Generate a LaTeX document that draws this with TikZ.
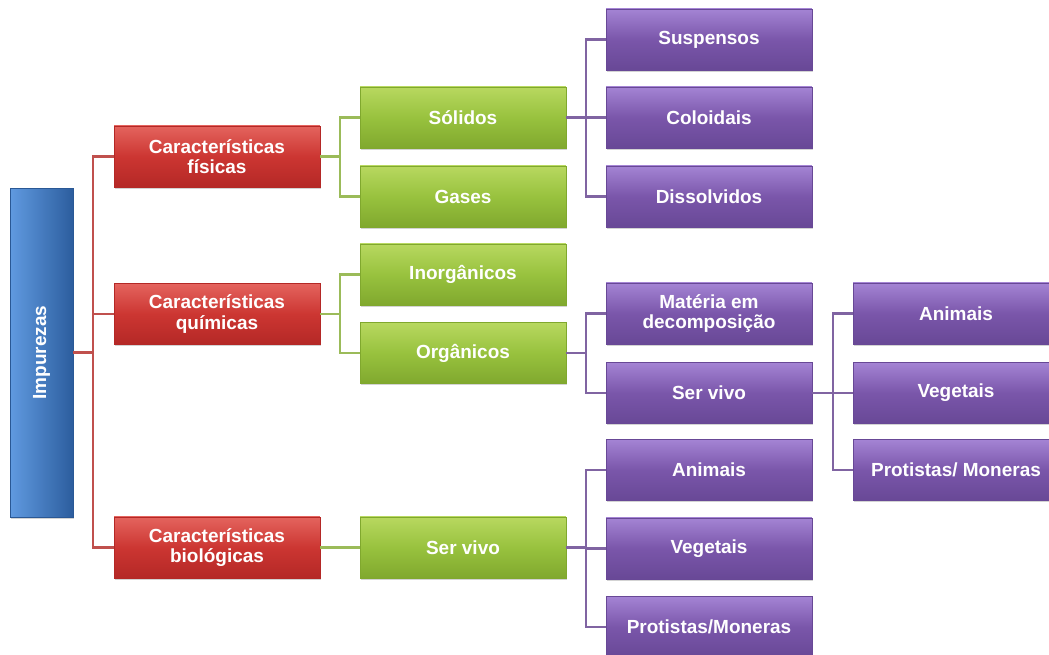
\documentclass[tikz,border=0pt]{standalone}
\usepackage{fontspec}
\usepackage{graphicx}
\setmainfont{Liberation Sans}
\usetikzlibrary{shadows}
\definecolor{redtop}{RGB}{228,100,94}
\definecolor{redmain}{RGB}{204,54,50}
\definecolor{reddark}{RGB}{180,40,38}
\definecolor{greentop}{RGB}{184,216,96}
\definecolor{greenmain}{RGB}{152,194,62}
\definecolor{greendark}{RGB}{128,168,46}
\definecolor{purpletop}{RGB}{164,132,212}
\definecolor{purplemain}{RGB}{122,86,170}
\definecolor{purpledark}{RGB}{104,72,150}
\definecolor{bluelight}{RGB}{96,154,224}
\definecolor{bluemain}{RGB}{52,110,186}
\definecolor{redwire}{RGB}{192,80,77}
\definecolor{greenwire}{RGB}{155,187,89}
\definecolor{purplewire}{RGB}{128,100,162}
\begin{document}
\begin{tikzpicture}[x=0.02cm, y=-0.02cm,
    box/.style={line width=0.3pt, minimum width=4.12cm, minimum height=1.23cm, text=white, align=center, inner sep=1pt,
      font=\fontsize{10.8}{11.4}\selectfont\bfseries,
      drop shadow={opacity=0.35, shadow xshift=0.7pt, shadow yshift=-0.9pt}},
    redbox/.style={box, draw=reddark, top color=redtop, bottom color=reddark, middle color=redmain},
    greenbox/.style={box, draw=greendark, top color=greentop, bottom color=greendark, middle color=greenmain},
    purplebox/.style={box, draw=purpledark, top color=purpletop, bottom color=purpledark, middle color=purplemain},
    impbox/.style={box, draw=bluemain!80!black, minimum width=1.26cm, minimum height=6.58cm, left color=bluelight, right color=bluemain!85!black},
    wire/.style={line width=1.4pt},
    redline/.style={wire, redwire},
    greenline/.style={wire, greenwire},
    purpleline/.style={wire, purplewire}]
    \useasboundingbox (0,0) rectangle (1049,654);
    \clip (0,0) rectangle (1049,654);

    \node[impbox] (imp) at (41.5, 352.5) {\rotatebox{90}{Impurezas}};

    \node[redbox] (fis) at (217, 156.5) {Características\\físicas};
    \node[redbox] (qui) at (217, 314) {Características\\químicas};
    \node[redbox] (bio) at (217, 547.5) {Características\\biológicas};

    \node[greenbox] (sol) at (463, 117.5) {Sólidos};
    \node[greenbox] (gas) at (463, 196.5) {Gases};
    \node[greenbox] (inorg) at (463, 274.5) {Inorgânicos};
    \node[greenbox] (org) at (463, 353) {Orgânicos};
    \node[greenbox] (vivo) at (463, 547.5) {Ser vivo};

    \node[purplebox] (susp) at (709, 39.5) {Suspensos};
    \node[purplebox] (colo) at (709, 117.5) {Coloidais};
    \node[purplebox] (diss) at (709, 196.5) {Dissolvidos};
    \node[purplebox] (mat) at (709, 313.5) {Matéria em\\decomposição};
    \node[purplebox] (orgvivo) at (709, 393) {Ser vivo};
    \node[purplebox] (ani) at (709, 470) {Animais};
    \node[purplebox] (veg) at (709, 548.5) {Vegetais};
    \node[purplebox] (pro) at (709, 627) {Protistas/Moneras};

    \node[purplebox] (organi) at (956, 313.5) {Animais};
    \node[purplebox] (orgveg) at (956, 393) {Vegetais};
    \node[purplebox] (orgpro) at (956, 470) {Protistas/ Moneras};

    \draw[redline] (imp.east) -- ++(20,0) |- (fis.west);
    \draw[redline] (imp.east) -- ++(20,0) |- (qui.west);
    \draw[redline] (imp.east) -- ++(20,0) |- (bio.west);

    \draw[greenline] (fis.east) -- ++(20,0) |- (sol.west);
    \draw[greenline] (fis.east) -- ++(20,0) |- (gas.west);
    \draw[greenline] (qui.east) -- ++(20,0) |- (inorg.west);
    \draw[greenline] (qui.east) -- ++(20,0) |- (org.west);
    \draw[greenline] (bio.east) -- (vivo.west);

    \draw[purpleline] (sol.east) -- ++(20,0) |- (susp.west);
    \draw[purpleline] (sol.east) -- ++(20,0) |- (colo.west);
    \draw[purpleline] (sol.east) -- ++(20,0) |- (diss.west);
    \draw[purpleline] (org.east) -- ++(20,0) |- (mat.west);
    \draw[purpleline] (org.east) -- ++(20,0) |- (orgvivo.west);
    \draw[purpleline] (vivo.east) -- ++(20,0) |- (ani.west);
    \draw[purpleline] (vivo.east) -- ++(20,0) |- (veg.west);
    \draw[purpleline] (vivo.east) -- ++(20,0) |- (pro.west);

    \draw[purpleline] (orgvivo.east) -- ++(21,0) |- (organi.west);
    \draw[purpleline] (orgvivo.east) -- ++(21,0) |- (orgveg.west);
    \draw[purpleline] (orgvivo.east) -- ++(21,0) |- (orgpro.west);
\end{tikzpicture}
\end{document}
